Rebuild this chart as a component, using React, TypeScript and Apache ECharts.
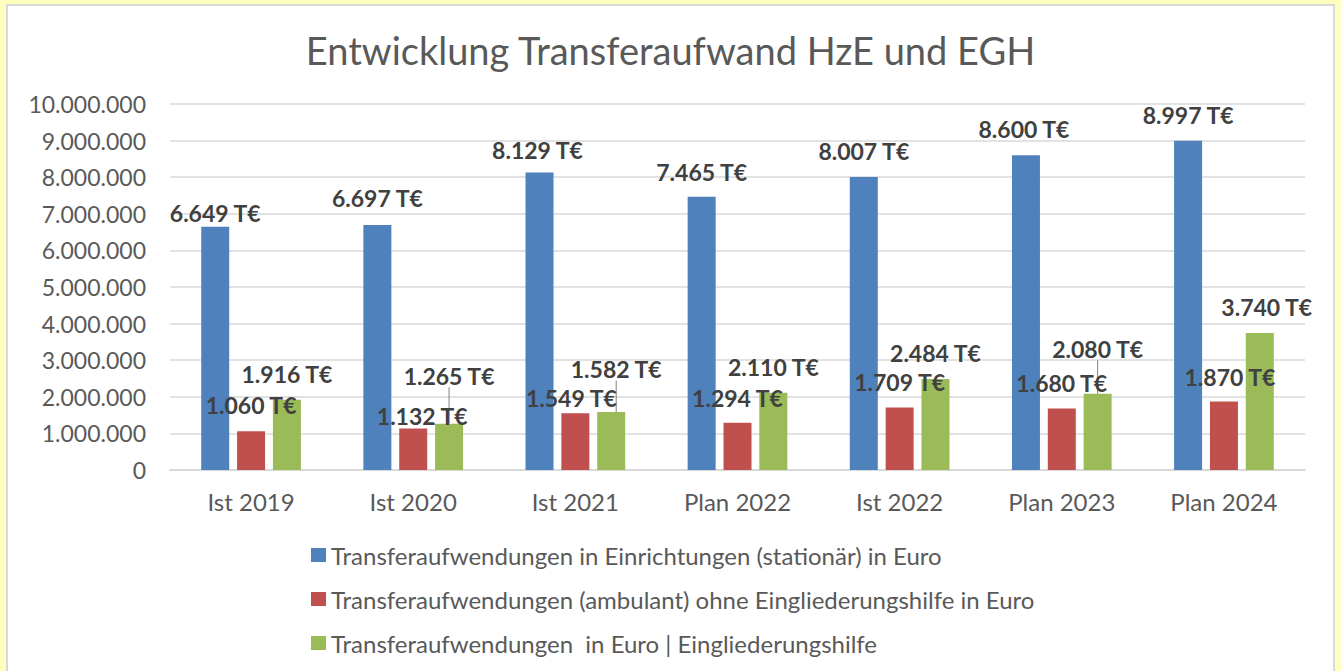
import React, { useEffect, useRef } from "react";
import * as echarts from "echarts";

const categories = ["Ist 2019", "Ist 2020", "Ist 2021", "Plan 2022", "Ist 2022", "Plan 2023", "Plan 2024"];
const stationaer = [6649000, 6697000, 8129000, 7465000, 8007000, 8600000, 8997000];
const ambulant = [1060000, 1132000, 1549000, 1294000, 1709000, 1680000, 1870000];
const eingliederung = [1916000, 1265000, 1582000, 2110000, 2484000, 2080000, 3740000];
const seriesNames = [
  "Transferaufwendungen in Einrichtungen (stationär) in Euro",
  "Transferaufwendungen (ambulant) ohne Eingliederungshilfe in Euro",
  "Transferaufwendungen  in Euro | Eingliederungshilfe",
];
const yTicks = { min: 0, max: 10000000, interval: 1000000 };

// manual label shifts (layout only)
const blueShift = [[0, 12], [0, -1], [-2, 4], [0, 1], [0, 0], [-2, 0], [0, 0]];
const redShift = [[0, 0], [9, 13], [-4, 11], [0, 1], [0, 1], [0, 0], [6, 1]];
const greenShift = [[0, 0], [0, -22], [5, -17], [0, 0], [0, 0], [0, -19], [7, 0]];
const greenLeader = [false, true, true, false, false, true, false];

const dotted = (v: number) => String(Math.round(v)).replace(/\B(?=(\d{3})+(?!\d))/g, ".");
const tEuro = (v: number) => dotted(v / 1000) + " T€";

export default function App() {
  const ref = useRef<HTMLDivElement>(null);
  useEffect(() => {
    if (!ref.current) return;
    const chart = echarts.init(ref.current, null, { renderer: "svg" });
    const font = "Lato";
    const labelBase = {
      show: true,
      position: "top",
      distance: 14.5,
      fontFamily: font,
      fontSize: 23,
      fontWeight: "bold",
      color: "#404040",
      formatter: (p: any) => tEuro(p.value),
    };
    const mk = (name: string, values: number[], color: string, shift: number[][], leader?: boolean[]) => ({
      name,
      type: "bar",
      data: values.map((v, i) =>
        leader && leader[i] ? { value: v, labelLine: { show: true } } : { value: v }
      ),
      itemStyle: { color },
      barWidth: 28,
      barGap: "28%",
      label: labelBase,
      labelLine: { show: false, lineStyle: { color: "#808080", width: 1 } },
      labelLayout: (p: any) => ({ dx: shift[p.dataIndex][0], dy: shift[p.dataIndex][1] }),
    });
    chart.setOption({
      animation: false,
      title: {
        text: "Entwicklung Transferaufwand HzE und EGH",
        left: "center",
        top: 26,
        textStyle: { fontFamily: font, fontSize: 38, fontWeight: "normal", color: "#595959" },
      },
      legend: {
        orient: "vertical",
        left: 306,
        top: 538,
        itemWidth: 15,
        itemHeight: 14,
        itemGap: 20,
        icon: "rect",
        textStyle: { fontFamily: font, fontSize: 24, color: "#595959" },
        data: seriesNames,
      },
      grid: { left: 170, right: 36, top: 104, height: 366, containLabel: false },
      xAxis: {
        type: "category",
        data: categories,
        axisTick: { show: false },
        axisLine: { lineStyle: { color: "#D9D9D9", width: 2 } },
        axisLabel: { margin: 19, fontFamily: font, fontSize: 24, color: "#595959" },
      },
      yAxis: {
        type: "value",
        ...yTicks,
        axisLine: { show: false },
        axisTick: { show: false },
        splitLine: { lineStyle: { color: "#D9D9D9", width: 1.5 } },
        axisLabel: { margin: 24, fontFamily: font, fontSize: 23, color: "#595959", formatter: (v: number) => dotted(v) },
      },
      series: [
        mk(seriesNames[0], stationaer, "#4F81BD", blueShift),
        mk(seriesNames[1], ambulant, "#C0504D", redShift),
        mk(seriesNames[2], eingliederung, "#9BBB59", greenShift, greenLeader),
      ],
    });
    return () => chart.dispose();
  }, []);
  return (
    <div style={{ position: "fixed", left: 0, top: 0, width: 1341, height: 671, background: "#FFFFC0", overflow: "hidden" }}>
      <div style={{ position: "absolute", left: 6, top: 4, width: 1325, height: 720, background: "#FFFFFF", border: "2px solid #D9D9D9" }} />
      <div ref={ref} style={{ position: "absolute", left: 0, top: 0, width: 1341, height: 671 }} />
    </div>
  );
}
